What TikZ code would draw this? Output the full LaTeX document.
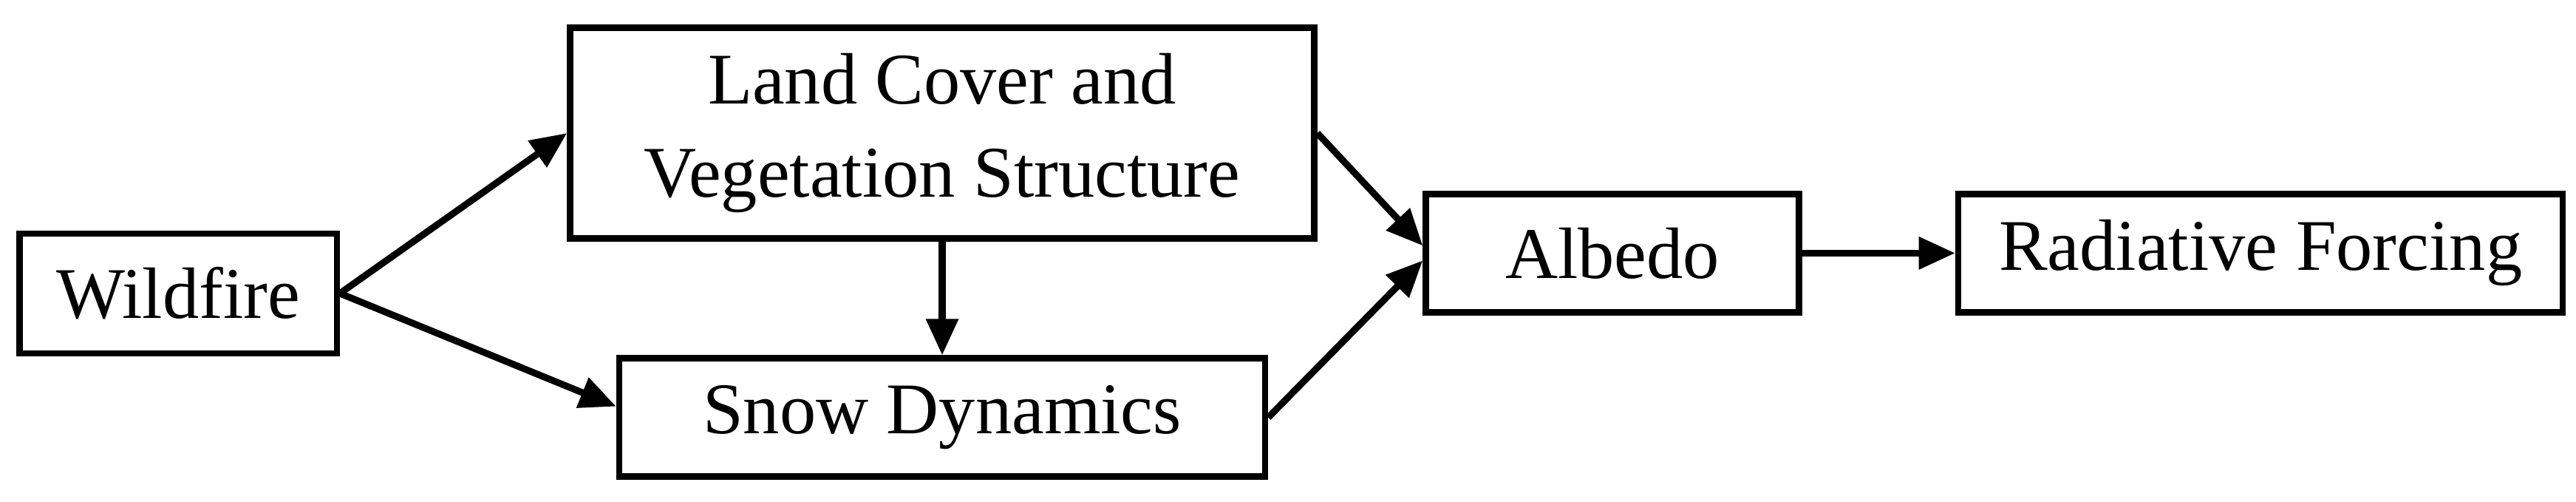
\documentclass[tikz,border=0pt]{standalone}
\usepackage{fontspec}
\setmainfont{Liberation Serif}
\usetikzlibrary{arrows.meta}
\begin{document}
\begin{tikzpicture}[x=0.02223cm,y=-0.02223cm,
 box/.style={draw,line width=2.4pt,inner sep=0pt,align=center,font=\fontsize{28}{36}\selectfont},
 arr/.style={line width=2.6pt,-{Triangle[length=14pt,width=12pt]}}]
\useasboundingbox (0,0) rectangle (1568,305.4);
\node[box,minimum width=4.29cm,minimum height=1.62cm] (w) at (108.5,178.5) {Wildfire};
\node[box,minimum width=10.07cm,minimum height=2.85cm] (lc) at (573.5,81) {Land Cover and\\Vegetation Structure};
\node[box,minimum width=8.74cm,minimum height=1.6cm] (sd) at (573.5,254) {Snow Dynamics};
\node[box,minimum width=5.05cm,minimum height=1.6cm] (al) at (981.5,154) {Albedo};
\node[box,minimum width=8.18cm,minimum height=1.6cm] (rf) at (1376,154) {Radiative Forcing};
\draw[arr] (w.east) -- (lc.west);
\draw[arr] (w.east) -- ([yshift=0.15cm]sd.west);
\draw[arr] (lc.south) -- (sd.north);
\draw[arr] (lc.east) -- ([yshift=0.1cm]al.west);
\draw[arr] (sd.east) -- ([yshift=-0.1cm]al.west);
\draw[arr] (al.east) -- (rf.west);
\end{tikzpicture}
\end{document}
